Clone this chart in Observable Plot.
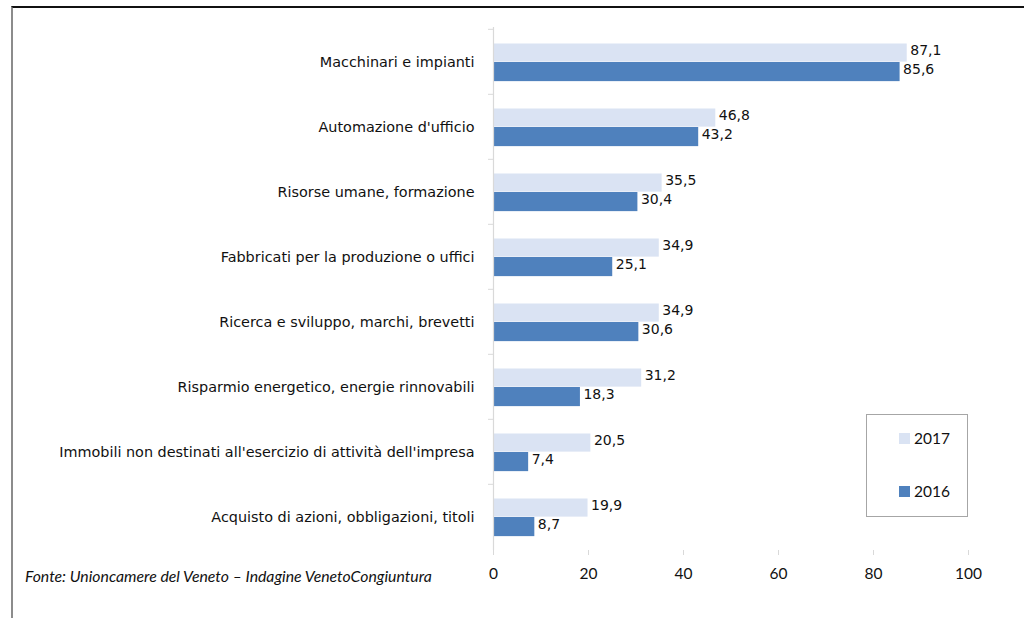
<!DOCTYPE html>
<html>
<head>
<meta charset="utf-8">
<script src="https://cdn.jsdelivr.net/npm/d3@7"></script>
<script src="https://cdn.jsdelivr.net/npm/@observablehq/plot@0.6"></script>
<style>
  html, body { margin: 0; padding: 0; background: #fff; width: 1024px; height: 618px; overflow: hidden; }
  #wrap { position: relative; width: 1024px; height: 618px; }
  #frame { position: absolute; left: 11px; top: 6px; width: 1100px; height: 700px;
           border-top: 2px solid #111; border-left: 2px solid #8c8c8c; }
  #chart { position: absolute; left: 0; top: 0; }
  #caption { position: absolute; left: 25px; top: 566px; font-family: Lato, "Open Sans", sans-serif;
             font-style: italic; font-size: 15.8px; color: #111; white-space: nowrap; }
  #legend { position: absolute; left: 866px; top: 414px; width: 102px; height: 103px;
            border: 1px solid #a6a6a6; box-sizing: border-box; font-family: Lato, sans-serif; font-size: 15.5px; color: #111; }
  .item { position: absolute; left: 32px; display: flex; align-items: center; }
  .sw { width: 11px; height: 11px; margin-right: 4px; }
</style>
</head>
<body>
<div id="wrap">
  <div id="frame"></div>
  <div id="chart"></div>
  <div id="caption"></div>
  <div id="legend"></div>
</div>
<script>
const categories = [
  "Macchinari e impianti",
  "Automazione d'ufficio",
  "Risorse umane, formazione",
  "Fabbricati per la produzione o uffici",
  "Ricerca e sviluppo, marchi, brevetti",
  "Risparmio energetico, energie rinnovabili",
  "Immobili non destinati all'esercizio di attività dell'impresa",
  "Acquisto di azioni, obbligazioni, titoli"
];
const values2017 = [87.1, 46.8, 35.5, 34.9, 34.9, 31.2, 20.5, 19.9];
const values2016 = [85.6, 43.2, 30.4, 25.1, 30.6, 18.3, 7.4, 8.7];
const xTicks = [0, 20, 40, 60, 80, 100];
const years = ["2017", "2016"];
const colors = ["#dae3f3", "#4f81bd"];
const caption = "Fonte: Unioncamere del Veneto – Indagine VenetoCongiuntura";

const data = categories.map((c, i) => ({category: c, v2017: values2017[i], v2016: values2016[i]}));
const fmt = v => v.toFixed(1).replace(".", ",");

const W = 1024, H = 618, mt = 27, mb = 68;
const step = (H - mt - mb) / categories.length;
const labelFont = "'DejaVu Sans', Verdana, sans-serif";

const chart = Plot.plot({
  width: W, height: H,
  marginLeft: 493, marginRight: 56, marginTop: mt, marginBottom: mb,
  style: {fontFamily: labelFont, fontSize: "14px", color: "#111", background: "transparent"},
  x: {domain: [0, 100], ticks: xTicks},
  y: {domain: categories, padding: 0},
  marks: [
    Plot.barX(data, {x: "v2017", y: "category", fill: colors[0], insetTop: 14.5, insetBottom: step - 33}),
    Plot.barX(data, {x: "v2016", y: "category", fill: colors[1], insetTop: 33, insetBottom: step - 52.5}),
    Plot.text(data, {x: "v2017", y: "category", text: d => fmt(d.v2017), textAnchor: "start", dx: 3, dy: -11,
      fontFamily: labelFont, fontSize: 14, fill: "#111"}),
    Plot.text(data, {x: "v2016", y: "category", text: d => fmt(d.v2016), textAnchor: "start", dx: 3, dy: 8,
      fontFamily: labelFont, fontSize: 14, fill: "#111"}),
    Plot.ruleX([0], {stroke: "#d9d9d9", strokeWidth: 1.2}),
    Plot.axisY({tickSize: 0, tickPadding: 19, fontFamily: labelFont, fontSize: 14.4, fill: "#111", label: null}),
    Plot.axisY({tickSize: 5, tickFormat: () => "", dy: -step / 2, stroke: "#d9d9d9", label: null}),
    Plot.axisX({ticks: xTicks, tickSize: 5, tickPadding: 12, line: true, stroke: "#d9d9d9",
      fill: "#111", fontFamily: "Lato, sans-serif", fontSize: 15.5, label: null})
  ]
});
document.getElementById("chart").appendChild(chart);
document.getElementById("caption").textContent = caption;

const legend = document.getElementById("legend");
years.forEach((y, i) => {
  const it = document.createElement("div");
  it.className = "item";
  it.style.top = (i === 0 ? 14 : 67) + "px";
  const sw = document.createElement("div");
  sw.className = "sw";
  sw.style.background = colors[i];
  const t = document.createElement("span");
  t.textContent = y;
  it.appendChild(sw); it.appendChild(t);
  legend.appendChild(it);
});
</script>
</body>
</html>
